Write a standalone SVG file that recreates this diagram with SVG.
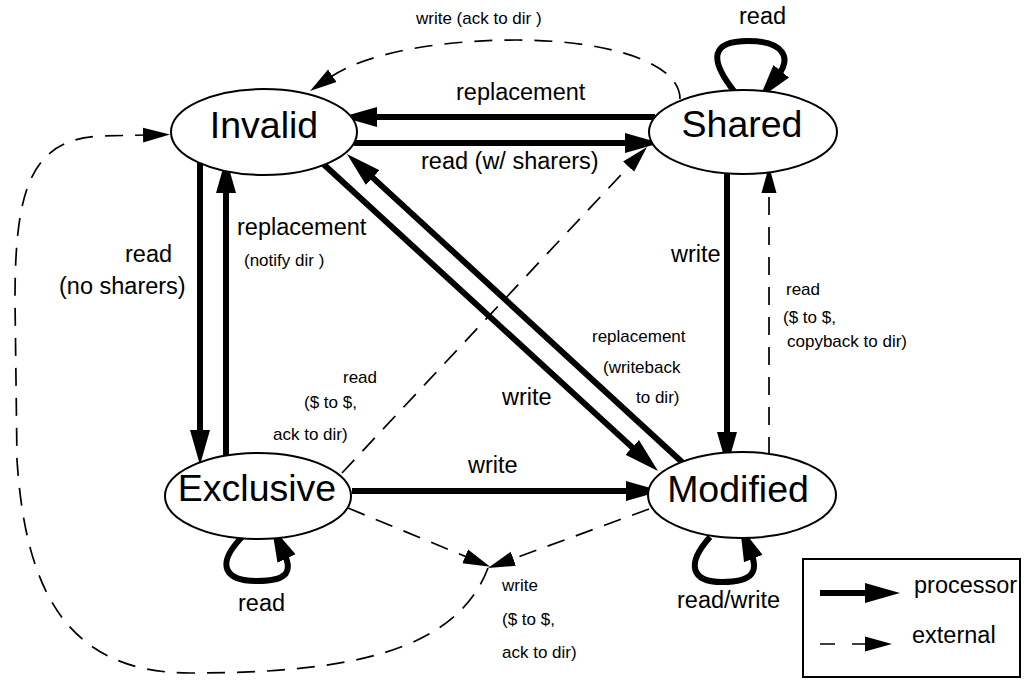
<svg xmlns="http://www.w3.org/2000/svg" width="1024" height="680" viewBox="0 0 1024 680">
<style>
text{font-family:"Liberation Sans",Arial,sans-serif;fill:#000}
.n{font-size:37.5px;text-anchor:middle}
.b{font-size:23.5px}
.s{font-size:17px}
ellipse{fill:#fff;stroke:#000;stroke-width:2}
.p{fill:none;stroke:#000;stroke-width:6;marker-end:url(#ap)}
.e{fill:none;stroke:#000;stroke-width:1.7;stroke-dasharray:18 12;marker-end:url(#ae)}
</style>
<defs>
<marker id="ap" markerUnits="userSpaceOnUse" markerWidth="36" markerHeight="22" viewBox="0 0 36 22" refX="6" refY="11" orient="auto"><path d="M0,1 L35,11 L0,21 Z" fill="#000"/></marker>
<marker id="ae" markerUnits="userSpaceOnUse" markerWidth="28" markerHeight="16" viewBox="0 0 28 16" refX="4" refY="8" orient="auto"><path d="M0,0.5 L27,8 L0,15.5 Z" fill="#000"/></marker>
</defs>
<rect width="1024" height="680" fill="#fff"/>
<g id="connectors">
<path class="p" d="M655,117 L371,117"/>
<path class="p" d="M354,143 L631,143"/>
<path class="p" d="M200,161 L200,436"/>
<path class="p" d="M226,456 L226,187"/>
<path class="p" d="M320,161 L636.6,451.4"/>
<path class="p" d="M683,463 L368.3,173.6"/>
<path class="p" d="M352,491 L632,491"/>
<path class="p" d="M727,170 L727,438"/>
<path class="p" d="M734,91 C708,58 712,41 748,41 C784,41 792,58 777.5,76"/>
<path class="p" d="M242,537 C215,565 225,581 257,581 C290,581 292,570 284,553"/>
<path class="p" d="M710,537 C685,565 692,582 722,582 C755,582 758,570 751,553"/>
<path class="e" d="M680,99 C680,60 600,40 517,40 C450,40 370,50 329,78"/>
<path class="e" d="M488,568 C455,655 340,673 190,673 C60,673 25,580 17,460 L15,300 C15,190 30,140 100,136 L147,135"/>
<path class="e" d="M769,455 L769,189"/>
<path class="e" d="M342,473 L631.3,163.8"/>
<path class="e" d="M348,508 L468.9,557.9"/>
<path class="e" d="M649,509 L509.6,560.1"/>
</g>
<g id="node-invalid"><ellipse cx="264" cy="132" rx="93" ry="43"/><text class="n" x="264" y="138">Invalid</text></g>
<g id="node-shared"><ellipse cx="743" cy="132" rx="94" ry="42"/><text class="n" x="742" y="137">Shared</text></g>
<g id="node-exclusive"><ellipse cx="258" cy="496" rx="93" ry="43"/><text class="n" x="257" y="501">Exclusive</text></g>
<g id="node-modified"><ellipse cx="742" cy="495" rx="94" ry="43"/><text class="n" x="738" y="502">Modified</text></g>
<g id="labels">
<text class="s" x="416" y="24">write (ack to dir )</text>
<text class="b" x="739" y="24">read</text>
<text class="b" x="456" y="100">replacement</text>
<text class="b" x="421" y="169">read (w/ sharers)</text>
<text class="b" x="125" y="262">read</text>
<text class="b" x="59" y="294">(no sharers)</text>
<text class="b" x="237" y="235">replacement</text>
<text class="s" x="244" y="266">(notify dir )</text>
<text class="b" x="671" y="262">write</text>
<text class="s" x="786" y="295">read</text>
<text class="s" x="783" y="323">($ to $,</text>
<text class="s" x="787" y="347">copyback to dir)</text>
<text class="s" x="592" y="342">replacement</text>
<text class="s" x="603" y="373">(writeback</text>
<text class="s" x="636" y="403">to dir)</text>
<text class="s" x="343" y="383">read</text>
<text class="s" x="304" y="408">($ to $,</text>
<text class="s" x="273" y="440">ack to dir)</text>
<text class="b" x="502" y="405">write</text>
<text class="b" x="468" y="473">write</text>
<text class="b" x="238" y="611">read</text>
<text class="b" x="677" y="608">read/write</text>
<text class="s" x="502" y="591">write</text>
<text class="s" x="502" y="625">($ to $,</text>
<text class="s" x="502" y="658">ack to dir)</text>
</g>
<g id="legend">
<rect x="803" y="559" width="217" height="118" fill="none" stroke="#000" stroke-width="2"/>
<path class="p" d="M820,593 L871,593"/>
<path class="e" style="stroke-dasharray:15 17" d="M820,644 L869,644"/>
<text class="b" x="914" y="593">processor</text>
<text class="b" x="912" y="643">external</text>
</g>
</svg>
